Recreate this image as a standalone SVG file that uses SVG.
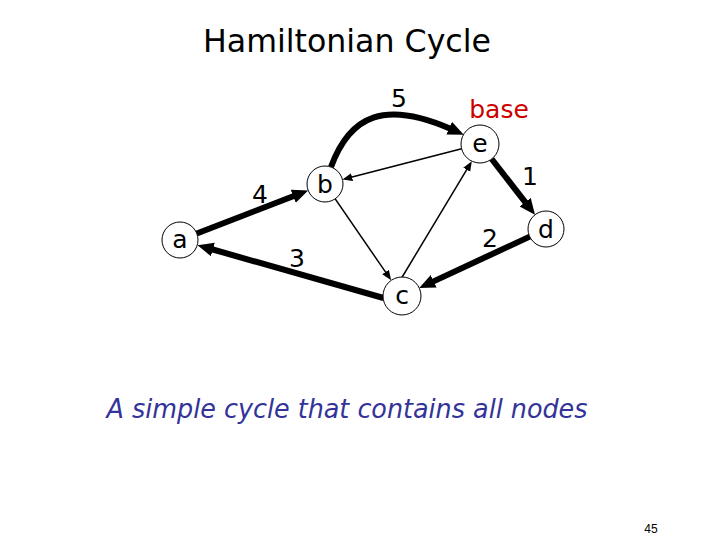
<svg xmlns="http://www.w3.org/2000/svg" width="720" height="540" viewBox="0 0 720 540">
<style>
.node circle{fill:#fff;stroke:#000;stroke-width:1}
.node text{font-family:"DejaVu Sans","Liberation Sans",sans-serif;font-size:25px;fill:#000;text-anchor:middle}
.thick{stroke:#000;stroke-width:6;fill:none}
.thin{stroke:#000;stroke-width:1.5;fill:none}
.lbl{font-family:"DejaVu Sans","Liberation Sans",sans-serif;font-size:25px;fill:#000;text-anchor:middle}
</style>
<defs>
<marker id="ah" markerUnits="userSpaceOnUse" markerWidth="18" markerHeight="16" refX="2" refY="7" orient="auto" viewBox="0 0 18 16">
<path d="M0,0 L16,7 L0,14 z" fill="#000"/>
</marker>
<marker id="as" markerUnits="userSpaceOnUse" markerWidth="11" markerHeight="9" refX="1" refY="4" orient="auto" viewBox="0 0 11 9">
<path d="M0,0 L10,4 L0,8 z" fill="#000"/>
</marker>
</defs>
<rect width="720" height="540" fill="#fff"/>
<text x="347" y="52" font-family="DejaVu Sans,'Liberation Sans',sans-serif" font-size="32" text-anchor="middle" textLength="288" lengthAdjust="spacingAndGlyphs">Hamiltonian Cycle</text>
<g id="connectors">
<path class="thick" d="M196.8,233.5 L295.1,195.5" marker-end="url(#ah)"/>
<path class="thick" d="M331,167 C350,115 385,100 451,129" marker-end="url(#ah)"/>
<path class="thick" d="M491.7,159 L526.4,203.7" marker-end="url(#ah)"/>
<path class="thick" d="M529.7,236.6 L431.9,282.1" marker-end="url(#ah)"/>
<path class="thick" d="M383.5,298 L211,249" marker-end="url(#ah)"/>
<path class="thin" d="M461.6,148.8 L351.1,177.3" marker-end="url(#as)"/>
<path class="thin" d="M335.2,198.8 L386.1,272.9" marker-end="url(#as)"/>
<path class="thin" d="M401,279 L467.2,168.9" marker-end="url(#as)"/>
</g>
<g id="node-a" class="node"><circle cx="180" cy="240" r="18"/><text x="180" y="248">a</text></g>
<g id="node-b" class="node"><circle cx="325" cy="184" r="18"/><text x="325" y="193">b</text></g>
<g id="node-e" class="node"><circle cx="480" cy="144" r="19"/><text x="480" y="152">e</text></g>
<g id="node-d" class="node"><circle cx="546" cy="229" r="18"/><text x="546" y="238">d</text></g>
<g id="node-c" class="node"><circle cx="402" cy="296" r="19"/><text x="402" y="304">c</text></g>
<g id="labels">
<text class="lbl" x="399" y="107">5</text>
<text class="lbl" x="499" y="118" style="fill:#cc0000">base</text>
<text class="lbl" x="530" y="185">1</text>
<text class="lbl" x="260" y="203">4</text>
<text class="lbl" x="490" y="247">2</text>
<text class="lbl" x="297" y="267">3</text>
</g>
<text x="347" y="418" font-family="DejaVu Sans,'Liberation Sans',sans-serif" font-size="26" font-style="italic" fill="#333399" text-anchor="middle" textLength="481" lengthAdjust="spacingAndGlyphs">A simple cycle that contains all nodes</text>
<text x="651" y="533" font-family="'Liberation Sans',sans-serif" font-size="12" text-anchor="middle">45</text>
</svg>
